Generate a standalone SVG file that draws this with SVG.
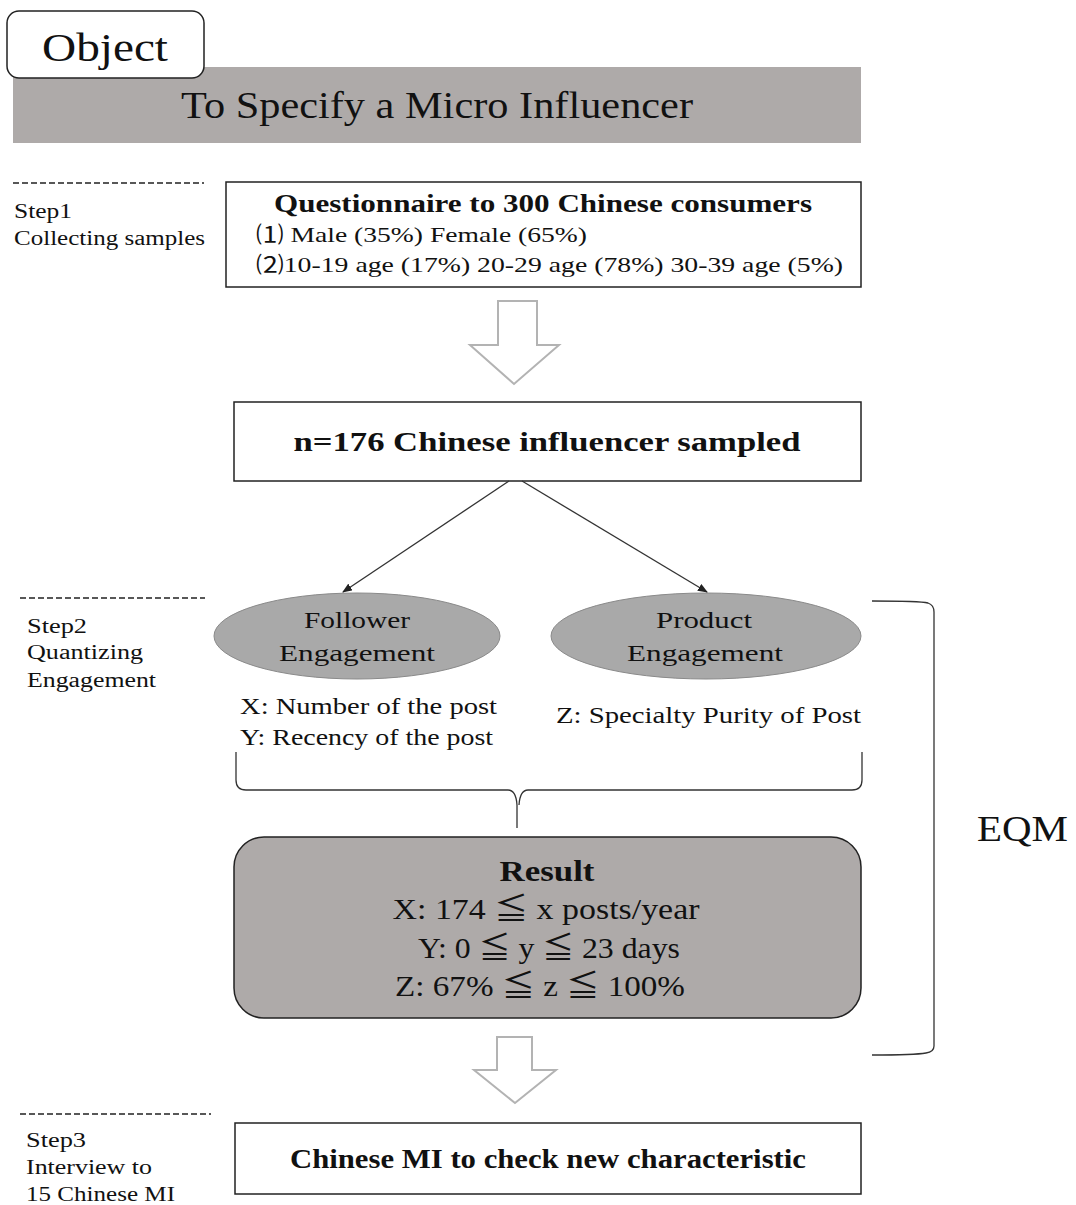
<svg xmlns="http://www.w3.org/2000/svg" width="1076" height="1205" viewBox="0 0 1076 1205">
<defs>
<style>
text{font-family:"Liberation Serif","DejaVu Serif","Noto Sans CJK JP",serif;fill:#111}
.b{font-weight:bold}
.c{text-anchor:middle}
.box{fill:#fff;stroke:#222;stroke-width:1.5}
.dash{stroke:#222;stroke-width:1.4;stroke-dasharray:6 3;fill:none}
.hollow{fill:#fff;stroke:#b3b3b3;stroke-width:2}
.ell{fill:#a9a9a9;stroke:#8a8a8a;stroke-width:1}
.ln{stroke:#333;stroke-width:1.3;fill:none}
.s20{font-size:20px}
.s22{font-size:23px}
</style>
<marker id="ah" markerWidth="10" markerHeight="8" refX="9" refY="4" orient="auto" markerUnits="userSpaceOnUse">
<path d="M0,0 L10,4 L0,8 Z" fill="#222"/>
</marker>
</defs>

<g id="banner">
<rect x="13" y="67" width="848" height="76" fill="#aeaaa9"/>
<text x="437" y="118" class="c" font-size="38" textLength="512" lengthAdjust="spacingAndGlyphs">To Specify a Micro Influencer</text>
</g>
<g id="object">
<rect x="7" y="11" width="197" height="67" rx="12" ry="12" class="box"/>
<text x="105" y="61" class="c" font-size="40" textLength="126" lengthAdjust="spacingAndGlyphs">Object</text>
</g>

<g id="step1">
<line x1="13" y1="183" x2="204" y2="183" class="dash"/>
<text x="14" y="218" class="s20" textLength="58" lengthAdjust="spacingAndGlyphs">Step1</text>
<text x="14" y="245" class="s20" textLength="191" lengthAdjust="spacingAndGlyphs">Collecting samples</text>
</g>

<g id="questionnaire">
<rect x="226" y="182" width="635" height="105" class="box"/>
<text x="543" y="212" class="c b" font-size="25" textLength="538" lengthAdjust="spacingAndGlyphs">Questionnaire to 300 Chinese consumers</text>
<text x="256" y="242" font-size="22" textLength="331" lengthAdjust="spacingAndGlyphs">⑴ Male (35%) Female (65%)</text>
<text x="256" y="272" font-size="22" textLength="587" lengthAdjust="spacingAndGlyphs">⑵10-19 age (17%)  20-29 age (78%) 30-39 age (5%)</text>
</g>

<g id="arrow1">
<path d="M498,301 H537 V345 H559 L514,384 L470,345 H498 Z" class="hollow"/>
</g>

<g id="sampled">
<rect x="234" y="402" width="627" height="79" class="box"/>
<text x="547" y="451" class="c b" font-size="28" textLength="507" lengthAdjust="spacingAndGlyphs">n=176 Chinese influencer sampled</text>
</g>

<g id="step2">
<line x1="20" y1="598" x2="205" y2="598" class="dash"/>
<text x="27" y="633" class="s20" textLength="60" lengthAdjust="spacingAndGlyphs">Step2</text>
<text x="27" y="659" class="s20" textLength="116" lengthAdjust="spacingAndGlyphs">Quantizing</text>
<text x="27" y="687" class="s20" textLength="129" lengthAdjust="spacingAndGlyphs">Engagement</text>
</g>

<g id="follower">
<ellipse cx="357" cy="636" rx="143" ry="43" class="ell"/>
<text x="357" y="628" class="c s22" textLength="106" lengthAdjust="spacingAndGlyphs">Follower</text>
<text x="357" y="661" class="c s22" textLength="156" lengthAdjust="spacingAndGlyphs">Engagement</text>
</g>
<g id="product">
<ellipse cx="706" cy="636" rx="155" ry="43" class="ell"/>
<text x="704" y="628" class="c s22" textLength="96" lengthAdjust="spacingAndGlyphs">Product</text>
<text x="705" y="661" class="c s22" textLength="156" lengthAdjust="spacingAndGlyphs">Engagement</text>
</g>

<g id="metrics">
<text x="240" y="714" class="s22" textLength="257" lengthAdjust="spacingAndGlyphs">X: Number of the post</text>
<text x="240" y="745" class="s22" textLength="253" lengthAdjust="spacingAndGlyphs">Y: Recency of the post</text>
<text x="556" y="723" class="s22" textLength="305" lengthAdjust="spacingAndGlyphs">Z: Specialty Purity of Post</text>
</g>

<g id="result">
<rect x="234" y="837" width="627" height="181" rx="30" ry="30" fill="#aeaaa9" stroke="#222" stroke-width="1.5"/>
<text x="547" y="881" class="c b" font-size="30" textLength="95" lengthAdjust="spacingAndGlyphs">Result</text>
<text x="546" y="919" class="c" font-size="30" textLength="307" lengthAdjust="spacingAndGlyphs">X: 174 ≦ x posts/year</text>
<text x="549" y="958" class="c" font-size="30" textLength="262" lengthAdjust="spacingAndGlyphs">Y: 0 ≦ y ≦ 23 days</text>
<text x="540" y="996" class="c" font-size="30" textLength="290" lengthAdjust="spacingAndGlyphs">Z: 67% ≦ z ≦ 100%</text>
</g>

<g id="eqm">
<text x="977" y="841" font-size="36" textLength="91" lengthAdjust="spacingAndGlyphs">EQM</text>
</g>

<g id="arrow2">
<path d="M497,1037 H532 V1070 H556 L515,1103 L474,1070 H497 Z" class="hollow"/>
</g>

<g id="step3">
<line x1="20" y1="1114" x2="211" y2="1114" class="dash"/>
<text x="26" y="1147" class="s20" textLength="60" lengthAdjust="spacingAndGlyphs">Step3</text>
<text x="26" y="1174" class="s20" textLength="126" lengthAdjust="spacingAndGlyphs">Interview to</text>
<text x="26" y="1201" class="s20" textLength="149" lengthAdjust="spacingAndGlyphs">15 Chinese MI</text>
</g>

<g id="final">
<rect x="235" y="1123" width="626" height="71" class="box"/>
<text x="548" y="1168" class="c b" font-size="27" textLength="516" lengthAdjust="spacingAndGlyphs">Chinese MI to check new characteristic</text>
</g>

<g id="connectors">
<line x1="509" y1="481" x2="343" y2="592" class="ln" marker-end="url(#ah)"/>
<line x1="522" y1="481" x2="707" y2="592" class="ln" marker-end="url(#ah)"/>
<path d="M236,752 V780 Q236,790 246,790 H508 Q516,790 517,805 V828" class="ln"/>
<path d="M862,752 V780 Q862,790 852,790 H528 Q520,790 519,805" class="ln"/>
<path d="M872,601 Q920,601 928,603 Q934,605 934,612 V1046 Q934,1052 926,1053 Q915,1055 872,1055" class="ln" stroke-width="1.5"/>
</g>
</svg>
